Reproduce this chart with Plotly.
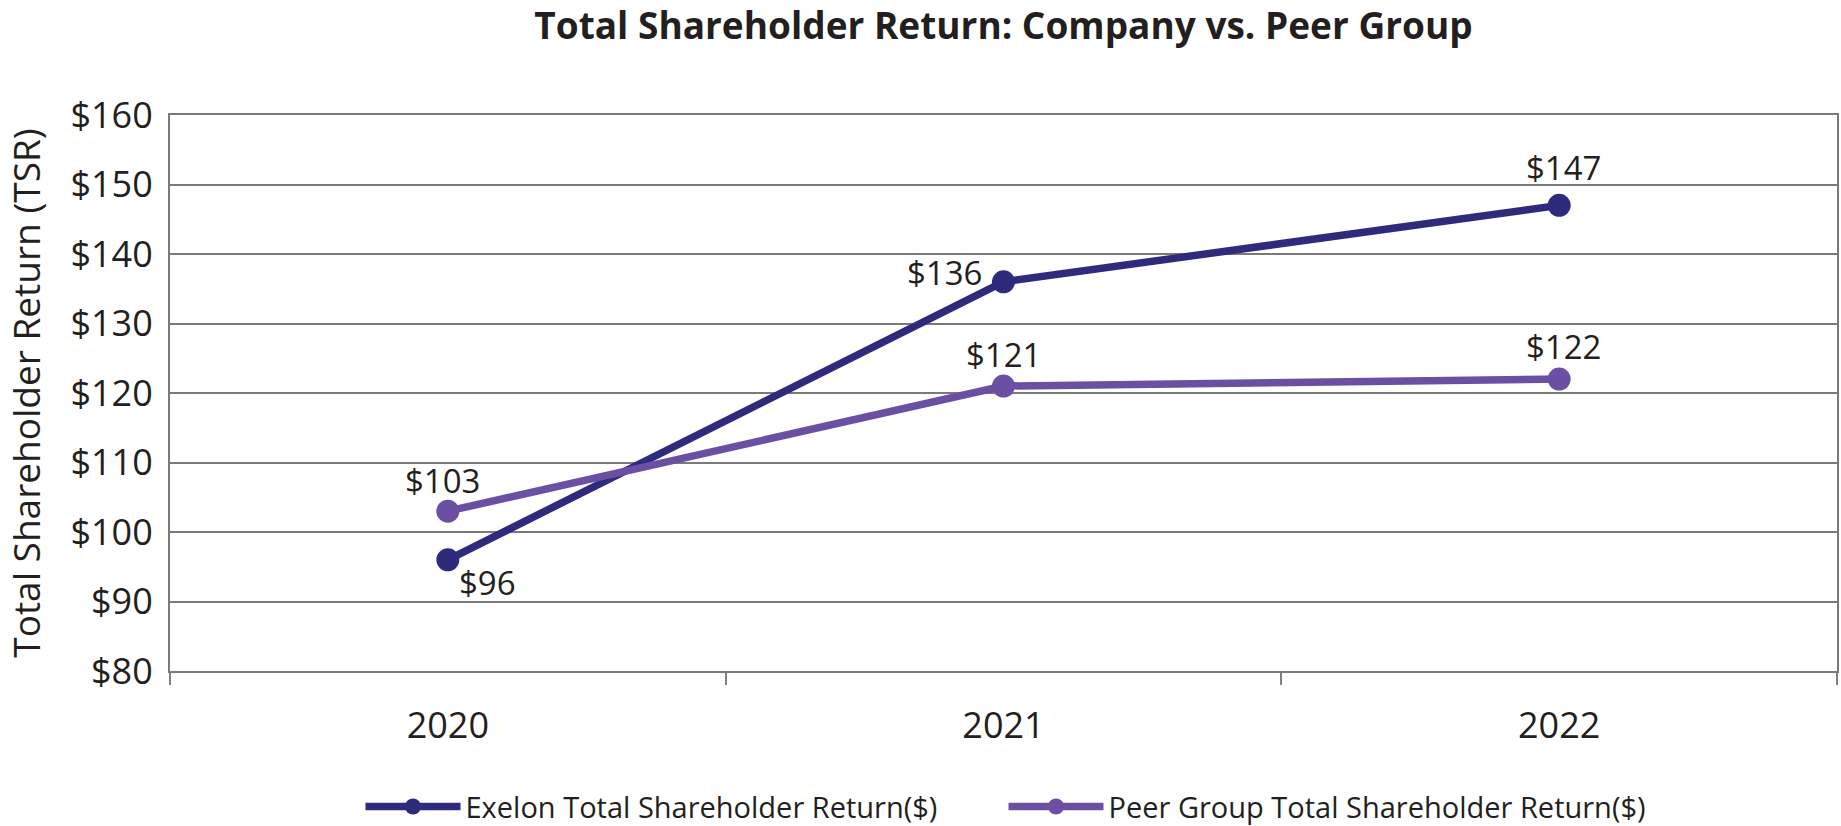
import plotly.graph_objects as go

years = ["2020", "2021", "2022"]
exelon = [96, 136, 147]
peer = [103, 121, 122]
y_ticks = [80, 90, 100, 110, 120, 130, 140, 150, 160]
y_tick_labels = ["$" + str(v) for v in y_ticks]

EXELON_COLOR = "#2E2B7C"
PEER_COLOR = "#6A4FA3"
TEXT = "#231F20"
FONT = "Open Sans"

fig = go.Figure()
fig.add_trace(go.Scatter(
    x=years, y=exelon, mode="lines+markers", name="Exelon Total Shareholder Return($)",
    line=dict(color=EXELON_COLOR, width=7.5), marker=dict(size=23, color=EXELON_COLOR),
))
fig.add_trace(go.Scatter(
    x=years, y=peer, mode="lines+markers", name="Peer Group Total Shareholder Return($)",
    line=dict(color=PEER_COLOR, width=7.5), marker=dict(size=23, color=PEER_COLOR),
))

# data labels (pixel offsets from each point)
ex_off = [(40, -23), (-59, 9), (4, 38)]
pe_off = [(-5, 31), (0, 32), (4, 33)]
for i, (v, (dx, dy)) in enumerate(zip(exelon, ex_off)):
    fig.add_annotation(x=i, y=v, xref="x", yref="y", text="$" + str(v), showarrow=False,
                       xshift=dx, yshift=dy, font=dict(family=FONT, size=33, color=TEXT))
for i, (v, (dx, dy)) in enumerate(zip(peer, pe_off)):
    fig.add_annotation(x=i, y=v, xref="x", yref="y", text="$" + str(v), showarrow=False,
                       xshift=dx, yshift=dy, font=dict(family=FONT, size=33, color=TEXT))

fig.update_layout(
    width=1841, height=826,
    paper_bgcolor="white", plot_bgcolor="white",
    margin=dict(l=170, r=4, t=115, b=155, autoexpand=False),
    title=dict(text="<b>Total Shareholder Return: Company vs. Peer Group</b>",
               x=0.5, xanchor="center", xref="paper", yref="container", y=0.968, yanchor="middle",
               font=dict(family=FONT, size=37, color=TEXT)),
    font=dict(family=FONT, color=TEXT),
    showlegend=True,
    legend=dict(orientation="h", x=0.5, xanchor="center", y=-0.244, yanchor="middle",
                font=dict(family=FONT, size=29, color=TEXT), itemwidth=95,
                entrywidth=533, traceorder="normal"),
)
fig.update_xaxes(
    type="category", range=[-0.5, 2.5], tickson="boundaries", ticks="outside",
    ticklen=12, tickcolor="#808080", tickwidth=1.5, automargin=False,
    showline=True, linecolor="#7A7A7A", linewidth=2, mirror=True,
    showgrid=False, tickfont=dict(family=FONT, size=36, color=TEXT),
    ticklabelstandoff=22,
)
fig.update_yaxes(
    range=[80, 160], tickvals=y_ticks, ticktext=y_tick_labels, automargin=False,
    showline=True, linecolor="#7A7A7A", linewidth=2, mirror=True,
    showgrid=True, gridcolor="#7A7A7A", gridwidth=1.6, zeroline=False,
    tickfont=dict(family=FONT, size=36, color=TEXT), ticklabelstandoff=8,
    title=dict(text="Total Shareholder Return (TSR)", standoff=21,
               font=dict(family=FONT, size=37, color=TEXT)),
)

fig.write_html("out.html", config={"displayModeBar": False},
               post_script="document.body.style.margin='0px';")
